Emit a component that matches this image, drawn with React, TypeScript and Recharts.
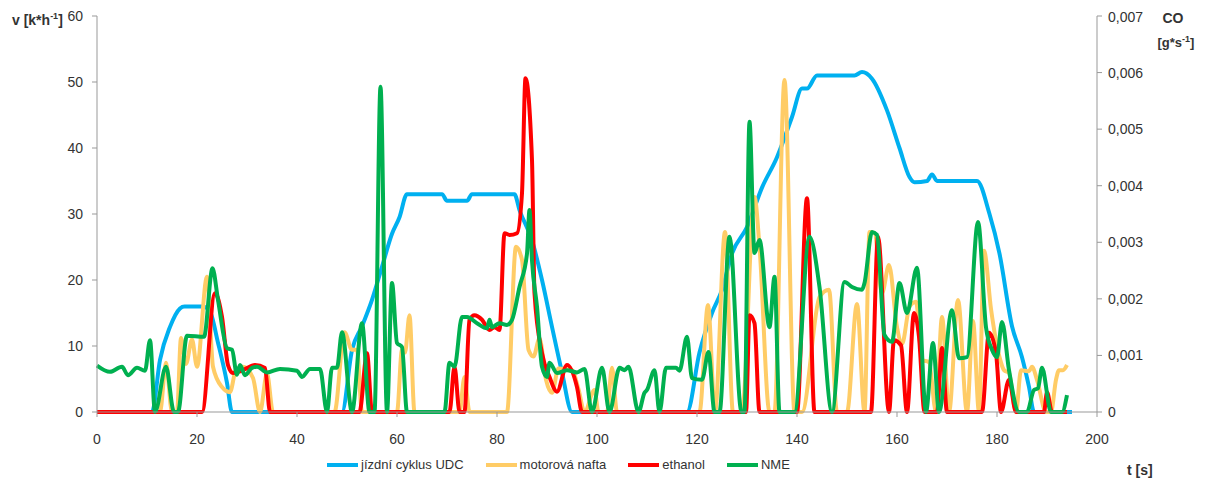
import React from "react";
import { ComposedChart, Line, XAxis, YAxis } from "recharts";

// time [s], speed [km/h]
const udcCycle: [number, number][] = [
  [0, 0], [11, 0], [12.6, 7.9], [14.6, 12.9], [16.6, 15.7], [17.5, 16], [21.2, 16], [22.6, 15.2],
  [24.2, 10.5], [26, 4.4], [27, 0], [49, 0], [51, 9.4], [53, 13], [55, 17], [57, 22], [59, 27],
  [60.5, 29.5], [62, 33], [69, 33], [70, 32], [74, 32], [75, 33], [83.5, 33], [84.5, 30.6], [87, 26],
  [89, 20], [91, 12.9], [93, 6], [95, 0], [118, 0], [120.5, 9], [123, 15], [125, 18.5], [127, 24],
  [130, 28], [133, 34], [136, 38.6], [139, 44.7], [141, 49], [142, 49], [144, 51], [151.5, 51],
  [153, 51.5], [155, 50.5], [158, 45.7], [160.5, 40], [162.5, 35.6], [163.5, 34.8], [166, 35],
  [167, 36], [168, 35], [176, 35], [178.5, 30], [180.5, 24], [183, 13], [185, 8.3], [186.4, 3.8],
  [187.4, 0], [195, 0],
];

// time [s], CO [g/s]
const dieselCO: [number, number][] = [
  [0, 0], [12.6, 0], [13.8, 0.00087], [15, 0], [16, 0], [16.8, 0.00131], [17.8, 0.00085], [19, 0.00128],
  [20, 0.0008], [22, 0.00239], [23.2, 0.0008], [25, 0.00044], [26.6, 0.00035], [27.8, 0.00075],
  [29.2, 0.0008], [31.2, 0.0006], [32.6, 0], [34, 0.00068], [35.2, 0], [47.5, 0], [49.5, 0.00141],
  [51, 0.0011], [52, 0.0011], [53, 0], [60, 0], [61, 0.0011], [61.6, 0.00105], [62.5, 0.00171],
  [63.5, 0], [72.5, 0], [73.5, 0.00062], [74.5, 0], [82, 0], [83.8, 0.00292], [85, 0.00269],
  [86.3, 0.0011], [87.3, 0.00098], [88.5, 0.0013], [89.8, 0.00057], [91, 0.00034], [92.3, 0.00077],
  [95, 0.00074], [96.3, 0.0004], [97.5, 0], [99.5, 0.00039], [100.3, 0], [102, 0], [103, 0.00078],
  [104, 0], [120.5, 0], [122.2, 0.00189], [123.6, 0], [125.6, 0.00318], [127.2, 0], [129, 0],
  [131.5, 0.0038], [132.5, 0.00292], [134.5, 0], [135.5, 0], [137.5, 0.00587], [139.5, 0], [141, 0],
  [144.5, 0.00203], [146.4, 0.00216], [148, 0], [150, 0], [152, 0.00191], [153.5, 0], [154.5, 0.00318],
  [155.5, 0.00316], [157, 0.0021], [158.4, 0.0026], [160, 0.0015], [161, 0.0012], [162.5, 0.00186],
  [163.8, 0.00195], [165, 0.00092], [166.4, 0.00088], [167.8, 0], [169, 0.00168], [170.4, 0],
  [172.2, 0.00198], [174, 0], [175.2, 0.00161], [176.4, 0], [177.4, 0.00285], [178.8, 0.00182],
  [180.5, 0.00097], [181.4, 0.00074], [182.4, 0.00069], [183.8, 0], [184.8, 0.00074], [186.4, 0.00072],
  [187, 0.0008], [188, 0.00057], [189.8, 0], [190.8, 0], [191.8, 0.00057], [192.4, 0.00074],
  [193.2, 0.00074], [194, 0.00083],
];

const ethanolCO: [number, number][] = [
  [0, 0], [21, 0], [23.6, 0.0021], [25, 0.00168], [26.2, 0.00083], [27.2, 0.00069], [29.2, 0.00074],
  [31.6, 0.00083], [33.6, 0.00078], [34.6, 0], [52.5, 0], [54, 0.00104], [55, 0], [70.5, 0],
  [71.5, 0.0008], [72.5, 0], [73.5, 0], [74.5, 0.00163], [75.5, 0.00171], [77, 0.00163],
  [78.5, 0.00145], [79.5, 0.0015], [80.5, 0.00145], [81.5, 0.00316], [82.5, 0.00313], [84, 0.00316],
  [85, 0.00387], [85.7, 0.0059], [87, 0.00445], [87.5, 0.0021], [89, 0.00104], [90.5, 0.00062],
  [92, 0.00036], [94, 0.00083], [96, 0.00044], [97, 0], [129.8, 0], [130.5, 0.00171], [131.5, 0.00157],
  [132.5, 0], [140, 0], [142, 0.00378], [143.5, 0], [154.8, 0], [156.2, 0.0031], [158.4, 0],
  [159.4, 0.00127], [160.8, 0.00118], [162, 0], [163.4, 0.00175], [164.4, 0.00133], [165.5, 0],
  [168, 0], [169, 0.00113], [170, 0], [177, 0], [178.4, 0.0014], [179.8, 0.00104], [180.8, 0],
  [182.4, 0.00057], [183.8, 0], [189.4, 0], [190, 0.00035], [191, 0], [194, 0],
];

const nmeCO: [number, number][] = [
  [0, 0.00082], [2.6, 0.00071], [5, 0.0008], [6.2, 0.00065], [8, 0.00078], [9.6, 0.00073],
  [10.6, 0.00127], [11.6, 0], [13.8, 0.0008], [15.4, 0], [16.2, 0], [18, 0.00135], [21.4, 0.00133],
  [23.1, 0.00254], [24.2, 0.00198], [26, 0.00113], [27, 0.0011], [28, 0.00066], [28.6, 0.00083],
  [29.6, 0.00065], [31, 0.00078], [32, 0.0008], [34, 0.0007], [36.6, 0.00076], [40, 0.00073],
  [41, 0.00062], [42.6, 0.00076], [44.6, 0.00076], [46, 0], [47, 0.00078], [48, 0.00078],
  [49, 0.00141], [51, 0], [53, 0.00157], [54.5, 0], [55.5, 0], [56.7, 0.00575], [58, 0],
  [59, 0.00228], [60, 0.00122], [61, 0.00115], [62, 0], [69.5, 0], [70.5, 0.00087], [71.5, 0.0008],
  [73, 0.00168], [74, 0.00168], [76, 0.00157], [78, 0.00148], [78.5, 0.00163], [79, 0.0015],
  [80.5, 0.00157], [82, 0.00154], [83, 0.00163], [84.5, 0.00221], [86, 0.0028], [86.5, 0.00357],
  [87, 0.00268], [88, 0.00186], [89, 0.0008], [90, 0.00062], [90.5, 0.00087], [92, 0.00069],
  [94, 0.00074], [96, 0.0007], [97.5, 0.00076], [99, 0], [101, 0.00078], [102.5, 0], [104.5, 0.00078],
  [105.5, 0.00074], [106.3, 0.0008], [108.3, 0], [109.5, 0.00034], [110, 0.00039], [111.5, 0.00074],
  [112.5, 0], [113.8, 0.00078], [115.8, 0.00078], [116.5, 0.00073], [118, 0.00133], [119, 0.0006],
  [121, 0.00057], [122.3, 0.00106], [123.5, 0], [124.5, 0], [126.5, 0.0031], [128.9, 0], [129.5, 0],
  [130.5, 0.00513], [131.5, 0.00281], [132.5, 0.00304], [134.5, 0.0015], [135.5, 0.00239],
  [136.5, 0], [139.5, 0], [142.5, 0.0031], [144.5, 0.00221], [147, 0], [149.5, 0.0023],
  [151, 0.00221], [153, 0.00216], [153.5, 0.00228], [155, 0.00318], [156, 0.00313], [157.5, 0.00136],
  [159, 0.00124], [160.5, 0.00228], [162, 0.00175], [164, 0.00255], [165.8, 0], [167.2, 0.00122],
  [168.4, 0], [171, 0.0018], [172.4, 0.00095], [174, 0.00097], [176.2, 0.00336], [177.8, 0.0015],
  [179, 0.0011], [180, 0.00097], [181, 0.00159], [182.4, 0.00074], [184.4, 0], [186, 0],
  [187.4, 0.00039], [188.2, 0.00042], [189, 0.00078], [190.8, 0], [193, 0], [194, 0.0003],
];

const xTicks = [0, 20, 40, 60, 80, 100, 120, 140, 160, 180, 200];
const speedTicks = [0, 10, 20, 30, 40, 50, 60];
const coTicks = [0, 0.001, 0.002, 0.003, 0.004, 0.005, 0.006, 0.007];

const series = [
  { key: "udc", name: "jízdní cyklus UDC", color: "#00B0F0", axis: "left", points: udcCycle },
  { key: "diesel", name: "motorová nafta", color: "#FFCC66", axis: "right", points: dieselCO },
  { key: "ethanol", name: "ethanol", color: "#FF0000", axis: "right", points: ethanolCO },
  { key: "nme", name: "NME", color: "#00B050", axis: "right", points: nmeCO },
];

const FONT = "'Liberation Sans', Arial, sans-serif";
const TEXT = "#333333";
const AXIS = "#999999";

const fmtCO = (v: number) => (v === 0 ? "0" : v.toFixed(3).replace(".", ","));

const RightTick = (props: any) => {
  const { x, y, payload } = props;
  return (
    <text x={x} y={y} dy="0.355em" textAnchor="start" fill={TEXT} fontSize={14} fontFamily={FONT}>
      {fmtCO(payload.value)}
    </text>
  );
};

export default function App() {
  return (
    <div style={{ position: "relative", width: 1210, height: 470, fontFamily: FONT }}>
      <ComposedChart width={1210} height={470} margin={{ top: 8, right: 0, bottom: 36, left: 0 }}>
        <XAxis
          type="number"
          dataKey="t"
          domain={[0, 200]}
          ticks={xTicks}
          allowDuplicatedCategory={false}
          height={30}
          tickSize={5}
          tickMargin={17}
          stroke={AXIS}
          tick={{ fill: TEXT, fontSize: 14, fontFamily: FONT }}
        />
        <YAxis
          yAxisId="left"
          domain={[0, 60]}
          ticks={speedTicks}
          width={89}
          tickSize={5}
          tickMargin={9}
          stroke={AXIS}
          tick={{ fill: TEXT, fontSize: 14, fontFamily: FONT }}
        />
        <YAxis
          yAxisId="right"
          orientation="right"
          domain={[0, 0.007]}
          ticks={coTicks}
          width={121}
          tickSize={5}
          tickMargin={6}
          stroke={AXIS}
          tick={<RightTick />}
        />
        {series.map((s) => (
          <Line
            key={s.key}
            yAxisId={s.axis}
            data={s.points.map(([t, v]) => ({ t, v }))}
            dataKey="v"
            name={s.name}
            type="monotone"
            stroke={s.color}
            strokeWidth={4}
            dot={false}
            activeDot={false}
            isAnimationActive={false}
          />
        ))}
      </ComposedChart>

      <div style={{ position: "absolute", left: 4, top: 3, fontSize: 14, fontWeight: "bold", color: TEXT, whiteSpace: "nowrap" }}>
        v [k*h<sup style={{ fontSize: 9 }}>-1</sup>]
      </div>
      <div style={{ position: "absolute", left: 1143, top: 2, width: 44, textAlign: "center", fontSize: 14, fontWeight: "bold", color: TEXT }}>
        CO
      </div>
      <div style={{ position: "absolute", left: 1140, top: 26, width: 56, textAlign: "center", fontSize: 13, fontWeight: "bold", color: TEXT, whiteSpace: "nowrap" }}>
        [g*s<sup style={{ fontSize: 9 }}>-1</sup>]
      </div>
      <div style={{ position: "absolute", left: 1119, top: 454, fontSize: 14, fontWeight: "bold", color: TEXT, whiteSpace: "nowrap" }}>
        t [s]
      </div>

      <div style={{ position: "absolute", left: 319, top: 449, display: "flex", alignItems: "center", gap: 22, fontSize: 13, color: TEXT, whiteSpace: "nowrap" }}>
        {series.map((s) => (
          <div key={s.key} style={{ display: "flex", alignItems: "center" }}>
            <span style={{ display: "inline-block", width: 31, height: 4, background: s.color, marginRight: 3 }} />
            <span>{s.name}</span>
          </div>
        ))}
      </div>
    </div>
  );
}
